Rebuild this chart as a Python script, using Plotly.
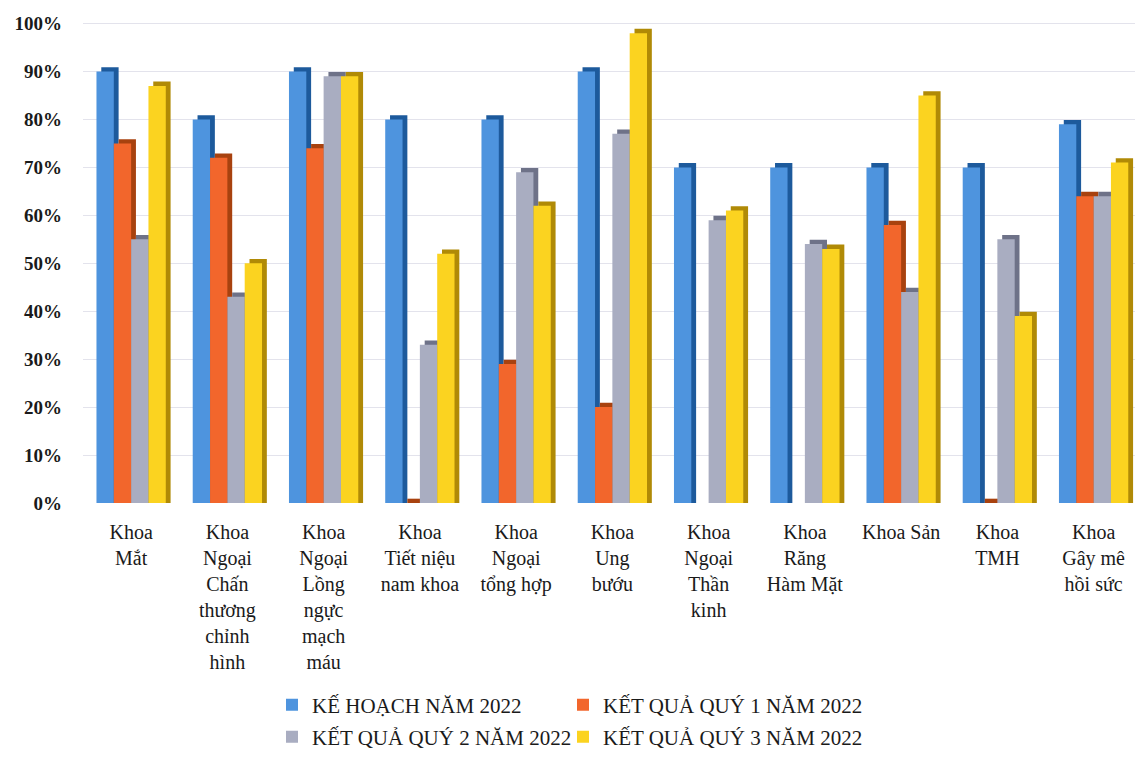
import plotly.graph_objects as go

# Departments (x axis) and the four series, in percent
categories = [
    "Khoa<br>Mắt",
    "Khoa<br>Ngoại<br>Chấn<br>thương<br>chỉnh<br>hình",
    "Khoa<br>Ngoại<br>Lồng<br>ngực<br>mạch<br>máu",
    "Khoa<br>Tiết niệu<br>nam khoa",
    "Khoa<br>Ngoại<br>tổng hợp",
    "Khoa<br>Ung<br>bướu",
    "Khoa<br>Ngoại<br>Thần<br>kinh",
    "Khoa<br>Răng<br>Hàm Mặt",
    "Khoa Sản",
    "Khoa<br>TMH",
    "Khoa<br>Gây mê<br>hồi sức",
]

ke_hoach_2022 = [90, 80, 90, 80, 80, 90, 70, 70, 70, 70, 79]
quy1_2022 = [75, 72, 74, 0, 29, 20, None, None, 58, 0, 64]
quy2_2022 = [55, 43, 89, 33, 69, 77, 59, 54, 44, 55, 64]
quy3_2022 = [87, 50, 89, 52, 62, 98, 61, 53, 85, 39, 71]

series_names = [
    "KẾ HOẠCH NĂM 2022",
    "KẾT QUẢ QUÝ 1 NĂM 2022",
    "KẾT QUẢ QUÝ 2 NĂM 2022",
    "KẾT QUẢ QUÝ 3 NĂM 2022",
]
series_values = [ke_hoach_2022, quy1_2022, quy2_2022, quy3_2022]

y_tick_values = list(range(0, 101, 10))
y_tick_labels = [f"{v}%" for v in y_tick_values]

# Styling
front_colors = ["#4e94de", "#f2662c", "#a9adc1", "#fbd320"]
side_colors = ["#1d5a9c", "#a8420f", "#6e7288", "#b08a06"]
SERIF = "Liberation Serif, Times New Roman, serif"

BAR_W = 0.18      # width of one bar face (category units)
DEPTH_X = 0.05    # horizontal depth of the extruded side
DEPTH_Y = 0.9     # vertical depth of the top cap (percent units)

x_pos = list(range(len(categories)))
legend_ids = ["legend", "legend2", "legend3", "legend4"]

fig = go.Figure()
for i, (name, vals) in enumerate(zip(series_names, series_values)):
    off = -0.36 + i * BAR_W
    depth_vals = [None if v is None else v + DEPTH_Y for v in vals]
    # darker extruded side / top of the bar
    fig.add_bar(
        x=x_pos, y=depth_vals, offset=off + DEPTH_X, width=BAR_W,
        marker=dict(color=side_colors[i], line=dict(width=0)),
        showlegend=False, hoverinfo="skip",
    )
    # front face
    fig.add_bar(
        x=x_pos, y=vals, offset=off, width=BAR_W, name=name,
        marker=dict(color=front_colors[i], line=dict(width=0)),
        legend=legend_ids[i],
    )

# Plot area geometry (px) used to place the legend rows
L, R, T, B = 83, 0, 14, 253
W, H = 1135, 758
plot_w = W - L - R
plot_h = H - T - B


def px_x(px):
    return (px - L) / plot_w


def px_y(py):
    return (H - B - py) / plot_h


legend_common = dict(
    orientation="h", xanchor="left", yanchor="middle",
    bgcolor="rgba(0,0,0,0)", itemwidth=30,
    font=dict(family=SERIF, size=21, color="#1a1a1a"),
)
legend_pos = [(272, 708), (563, 708), (272, 740), (563, 740)]
legend_layout = {}
for lid, (lx, ly) in zip(legend_ids, legend_pos):
    legend_layout[lid] = dict(legend_common, x=px_x(lx), y=px_y(ly))

fig.update_layout(
    width=W, height=H,
    margin=dict(l=L, r=R, t=T, b=B, pad=0),
    barmode="overlay",
    plot_bgcolor="white", paper_bgcolor="white",
    font=dict(family=SERIF, color="#1a1a1a"),
    **legend_layout,
)

fig.update_xaxes(
    range=[-0.5, 10.43],
    tickvals=x_pos, ticktext=categories,
    tickangle=0, ticks="", showgrid=False, zeroline=False, showline=False,
    tickfont=dict(family=SERIF, size=20, color="#1a1a1a"),
    ticklabelstandoff=15,
)
fig.update_yaxes(
    range=[0, 102],
    tickvals=y_tick_values, ticktext=y_tick_labels,
    showgrid=True, gridcolor="#e3e3ec", gridwidth=1,
    zeroline=False, showline=False, ticks="",
    tickfont=dict(family=SERIF, size=19, color="#1a1a1a", weight="bold"),
    ticklabelstandoff=20,
)

fig.write_html("out.html")
